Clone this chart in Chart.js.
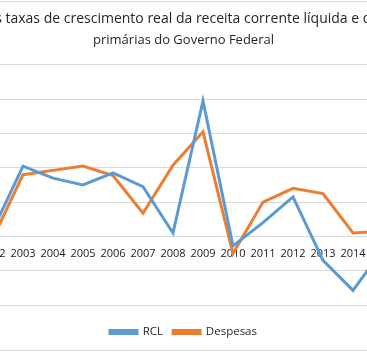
<!DOCTYPE html>
<html lang="pt">
<head>
  <meta charset="UTF-8">
  <title>Taxas de crescimento real - RCL e despesas primárias</title>
  <script src="https://cdn.jsdelivr.net/npm/chart.js"></script>
  <style>
  body {
    margin: 0;
    background: #fff;
  }

  #frame {
    position: relative;
    width: 367px;
    height: 352px;
    overflow: hidden;
    background: #fff;
  }

  #frame::before, #frame::after {
    content: '';
    position: absolute;
    left: 0;
    width: 367px;
    height: 1px;
    background: #d9d9d9;
    z-index: 2;
  }
  #frame::before { top: 1px; }
  #frame::after { top: 350px; }

  canvas {
    position: absolute;
    left: -100px;
    top: 0;
  }
</style>
</head>
<body>

  <div id="frame">
    <canvas id="chart" width="567" height="352"></canvas>
  </div>

  <script>
    // dados (variação real, em pontos da escala)
    const anos = ['2002', '2003', '2004', '2005', '2006', '2007', '2008',
                  '2009', '2010', '2011', '2012', '2013', '2014', '2015'];
    const rcl = [0.4, 4.1, 3.4, 3.0, 3.7, 2.9, 0.2, 7.9, -0.55, 0.8, 2.3, -1.4, -3.15, -0.75];
    const despesas = [-0.1, 3.6, 3.85, 4.1, 3.55, 1.35, 4.15, 6.1, -1.0, 2.0, 2.8, 2.5, 0.2, 0.3];
    const titulo = 'Evolução das taxas de crescimento real da receita corrente líquida e das despesas';
    const subtitulo = 'primárias do Governo Federal';

    const ctx = document.getElementById('chart').getContext('2d');
    const chart = new Chart(ctx, {
      type: 'line',
      data: {
        labels: anos,
        datasets: [
          {
            label: 'RCL',
            data: rcl,
            borderColor: '#5b9bd5',
            backgroundColor: '#5b9bd5',
            borderWidth: 3,
            pointRadius: 0,
            tension: 0
          },
          {
            label: 'Despesas',
            data: despesas,
            borderColor: '#ed7d31',
            backgroundColor: '#ed7d31',
            borderWidth: 3,
            pointRadius: 0,
            tension: 0
          }
        ]
      },
      options: {
        responsive: false,
        animation: false,
        devicePixelRatio: 1,
        layout: { padding: { bottom: 4.25 } },
        plugins: {
          title: {
            display: true,
            text: titulo,
            color: '#262626',
            font: { family: 'Open Sans', size: 14, weight: 'normal', lineHeight: 1.2 },
            padding: { top: 11, bottom: 0 }
          },
          subtitle: {
            display: true,
            text: subtitulo,
            color: '#262626',
            font: { family: 'Open Sans', size: 13, weight: 'normal', lineHeight: 1.2 },
            padding: { top: 5, bottom: 16.5 }
          },
          legend: {
            position: 'bottom',
            // titulo vazio so para empurrar a legenda para baixo
            title: {
              display: true,
              text: ' ',
              font: { size: 11.25, lineHeight: 1 },
              padding: 0
            },
            labels: {
              color: '#262626',
              font: { family: 'Open Sans', size: 11.5 },
              boxWidth: 27,
              boxHeight: 3,
              padding: 10
            }
          },
          tooltip: { enabled: false }
        },
        scales: {
          x: {
            position: { y: 0 },
            offset: true,
            grid: { display: false },
            border: { display: true, color: '#d9d9d9' },
            ticks: {
              color: '#1a1a1a',
              font: { family: 'Open Sans', size: 11 },
              maxRotation: 0,
              autoSkip: false,
              padding: 3
            }
          },
          y: {
            min: -4,
            max: 10,
            ticks: { stepSize: 2, display: false },
            grid: { color: '#d9d9d9', drawTicks: false },
            border: { display: false },
            afterFit: (scale) => { scale.width = 78; }
          },
          y2: {
            position: 'right',
            ticks: { display: false },
            grid: { display: false },
            border: { display: false },
            afterFit: (scale) => { scale.width = 69; }
          }
        }
      }
    });
  </script>

</body>
</html>
